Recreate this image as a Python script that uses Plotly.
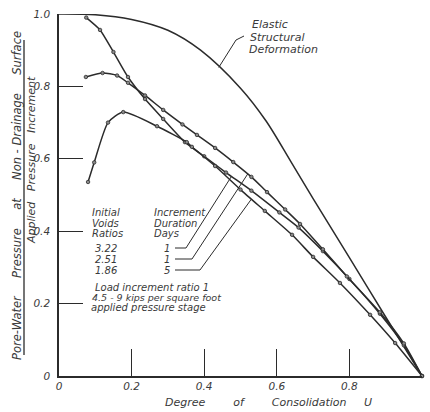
import numpy as np
import plotly.graph_objects as go

# ---------------- data ----------------
elastic_u = [0.0, 0.1, 0.2, 0.3, 0.39, 0.5, 0.57, 0.64, 0.7, 0.8, 0.9, 1.0]
elastic_p = [1.0, 0.998, 0.985, 0.955, 0.90, 0.795, 0.705, 0.59, 0.49, 0.327, 0.163, 0.0]

e322_u = [0.075, 0.113, 0.15, 0.19, 0.237, 0.287, 0.347, 0.40, 0.46, 0.53, 0.607, 0.66, 0.727, 0.80, 0.884, 0.95, 1.0]
e322_p = [0.99, 0.956, 0.895, 0.826, 0.765, 0.71, 0.646, 0.607, 0.562, 0.512, 0.452, 0.41, 0.345, 0.268, 0.172, 0.085, 0.0]

e251_u = [0.074, 0.12, 0.16, 0.19, 0.237, 0.287, 0.34, 0.38, 0.43, 0.48, 0.53, 0.573, 0.623, 0.664, 0.727, 0.793, 0.884, 0.95, 1.0]
e251_p = [0.826, 0.837, 0.83, 0.81, 0.775, 0.735, 0.695, 0.666, 0.63, 0.591, 0.55, 0.508, 0.46, 0.42, 0.35, 0.275, 0.176, 0.09, 0.0]

e186_u = [0.08, 0.097, 0.135, 0.177, 0.27, 0.352, 0.366, 0.43, 0.50, 0.567, 0.642, 0.70, 0.774, 0.857, 0.926, 1.0]
e186_p = [0.536, 0.59, 0.70, 0.729, 0.69, 0.646, 0.633, 0.58, 0.515, 0.456, 0.39, 0.329, 0.257, 0.169, 0.091, 0.0]

void_ratios = ["3.22", "2.51", "1.86"]
durations = ["1", "1", "5"]

x_ticks = [0, 0.2, 0.4, 0.6, 0.8, 1.0]
x_tick_text = ["0", "0.2", "0.4", "0.6", "0.8", "1.0"]
y_ticks = [0, 0.2, 0.4, 0.6, 0.8, 1.0]
y_tick_text = ["0", "0.2", "0.4", "0.6", "0.8", "1.0"]

# ---------------- layout helpers ----------------
W, H = 430, 412
L, R, T, B = 59, 422, 14, 376   # plot area in pixels


def px(x, y):
    """pixel -> data/paper coordinates (axes span exactly 0..1)"""
    return (x - L) / (R - L), (B - y) / (B - T)


INK = "#2b2b2b"
TXT = "#3a3a3a"
FONT = "DejaVu Sans"

fig = go.Figure()

fig.add_trace(go.Scatter(x=elastic_u, y=elastic_p, mode="lines",
                         line=dict(color=INK, width=1.5, shape="spline", smoothing=0.9),
                         cliponaxis=False, showlegend=False))

for u, p in [(e322_u, e322_p), (e251_u, e251_p), (e186_u, e186_p)]:
    fig.add_trace(go.Scatter(x=u, y=p, mode="lines+markers",
                             line=dict(color=INK, width=1.5, shape="spline", smoothing=0.6),
                             marker=dict(symbol="circle", size=3.5, color="#8a8a8a",
                                         line=dict(color=INK, width=0.8)),
                             cliponaxis=False, showlegend=False))

ann = []


def text(x, y, s, size=10, anchor="left", angle=0):
    xx, yy = px(x, y)
    ann.append(dict(x=xx, y=yy, xref="paper", yref="paper", text=s, showarrow=False,
                    xanchor=anchor, yanchor="middle", textangle=angle,
                    font=dict(family=FONT, size=size, color=TXT, style="italic")))


sp = "\u00a0"
# legend block
text(90, 212, "Initial")
text(90, 223, "Voids")
text(90, 233, "Ratios")
text(152, 212, "Increment")
text(152, 223, "Duration")
text(152, 233, "Days")
rows_y = [248, 259, 270]
for v, d, yy in zip(void_ratios, durations, rows_y):
    text(106, yy, v, anchor="center")
    text(172, yy, d, anchor="right")

text(152, 287, "Load increment ratio 1", anchor="center")
text(157, 297, "4.5 - 9 kips per square foot", size=9.5, anchor="center")
text(148, 307, "applied pressure stage", anchor="center")

# elastic label
text(250, 25, "Elastic", size=11)
text(248, 37, "Structural", size=11)
text(247, 49, "Deformation", size=11)

# axis titles
text(268, 402, "Degree" + sp * 8 + "of" + sp * 8 + "Consolidation" + sp * 5 + "U", size=11, anchor="center")
text(17, 196, "Pore-Water" + sp * 5 + "Pressure" + sp * 5 + "at" + sp * 5 + "Non" + sp + "-" + sp + "Drainage" + sp * 5 + "Surface",
     size=11.5, anchor="center", angle=-90)
text(31, 160, "Applied" + sp * 3 + "Pressure" + sp * 3 + "Increment", size=11, anchor="center", angle=-90)

shapes = []
# fraction bar of y title
x0, y0 = px(24, 40)
x1, y1 = px(24, 355)
shapes.append(dict(type="line", xref="paper", yref="paper", x0=x0, y0=y0, x1=x1, y1=y1,
                   line=dict(color=INK, width=1.3)))

# leader lines from legend rows to curves
curves = [(e322_u, e322_p), (e251_u, e251_p), (e186_u, e186_p)]
target_u = [0.475, 0.52, 0.53]
h_end = [186, 192, 200]
for (cu, cp), tu, he, yy in zip(curves, target_u, h_end, rows_y):
    tp = float(np.interp(tu, cu, cp))
    a = px(175, yy)
    b = px(he, yy)
    path = f"M {a[0]},{a[1]} L {b[0]},{b[1]} L {tu},{tp}"
    shapes.append(dict(type="path", xref="x", yref="y", path=path,
                       line=dict(color=INK, width=1.0)))

# elastic label leader
tu = 0.44
tp = float(np.interp(tu, elastic_u, elastic_p))
a = px(244, 36)
m = px(236, 40)
shapes.append(dict(type="path", xref="x", yref="y",
                   path=f"M {a[0]},{a[1]} L {m[0]},{m[1]} L {tu},{tp}",
                   line=dict(color=INK, width=1.0)))

fig.update_layout(
    width=W, height=H, autosize=False,
    margin=dict(l=L, r=W - R, t=T, b=H - B, pad=0),
    paper_bgcolor="white", plot_bgcolor="white",
    annotations=ann, shapes=shapes, showlegend=False,
    xaxis=dict(range=[0, 1], showgrid=False, zeroline=False, showline=True,
               linecolor=INK, linewidth=1.5, ticks="inside", ticklen=27, tickwidth=1.2,
               tickcolor=INK, tickvals=x_ticks, ticktext=x_tick_text,
               tickfont=dict(family=FONT, size=10.5, color=TXT, style="italic")),
    yaxis=dict(range=[0, 1], showgrid=False, zeroline=False, showline=True,
               linecolor=INK, linewidth=1.5, ticks="inside", ticklen=24, tickwidth=1.2,
               tickcolor=INK, tickvals=y_ticks, ticktext=y_tick_text, ticklabelstandoff=5,
               tickfont=dict(family=FONT, size=10.5, color=TXT, style="italic")),
)

fig.write_html("out.html",
               config={"displayModeBar": False, "responsive": False},
               default_width="430px", default_height="412px",
               post_script="document.body.style.margin='0';document.body.style.padding='0';"
                           "document.body.style.overflow='hidden';")
